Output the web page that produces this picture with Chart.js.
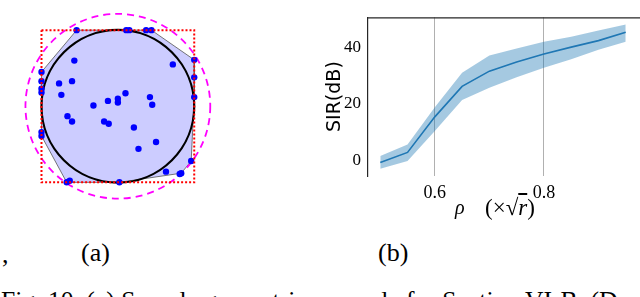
<!DOCTYPE html>
<html>
<head>
<meta charset="utf-8">
<script src="https://cdn.jsdelivr.net/npm/chart.js@4"></script>
<style>
  html, body { margin: 0; padding: 0; background: #fff; }
  body { width: 640px; height: 297px; overflow: hidden; position: relative; color: #000; }
  canvas { position: absolute; }
  #geo { left: 0; top: 0; }
  #sir { left: 320px; top: 0; }
  .txt { position: absolute; white-space: nowrap; line-height: 1; font-family: "Liberation Serif", "Times New Roman", serif; }
</style>
</head>
<body>
<canvas id="geo" width="240" height="215" style="width:240px;height:215px"></canvas>
<canvas id="sir" width="333" height="230" style="width:333px;height:230px"></canvas>

<div class="txt" style="left:2px;top:242px;font-size:26px;">,</div>
<div class="txt" style="left:81px;top:240px;font-size:26px;">(a)</div>
<div class="txt" style="left:378px;top:240px;font-size:26px;">(b)</div>
<div class="txt" style="left:455px;top:197px;font-size:20px;font-style:italic;">ρ</div>
<div class="txt" style="left:485px;top:196px;font-size:23px;">(×√<span style="font-style:italic;text-decoration:overline;">r</span>)</div>
<div class="txt" style="left:1px;top:288px;font-size:25.6px;">Fig. 10. (a) Sample geometric example for Section VI-B. (D</div>

<script>
const serif = '"Liberation Serif", "Times New Roman", serif';

// (b) SIR vs rho, mean with spread band
const rho = [0.5, 0.55, 0.6, 0.65, 0.7, 0.75, 0.8, 0.85, 0.9, 0.95];
const sirMean = [-0.9, 2.7, 15.3, 26.1, 31.5, 34.7, 37.6, 40.0, 42.3, 45.3];
const sirUpper = [1.4, 5.5, 18.7, 30.9, 37.0, 39.5, 41.9, 43.7, 45.9, 48.0];
const sirLower = [-3.1, -0.3, 10.3, 21.3, 25.6, 29.3, 32.7, 35.7, 39.1, 41.9];
const xTicks = [0.6, 0.8];
const yTicks = [0, 20, 40];

// (a) geometric example: sample points, their hull, square and circles
const ptX = [-0.54, 0.11, 0.15, 0.37, 0.44, 1.0, 1.0, 1.0, 0.96, 0.83, 0.81, 0.63, 0.02, -0.63, -0.67,
  -1.0, -1.0, -1.0, -1.0, -1.0, -1.0,
  -0.57, 0.72, -0.77, -0.60, -0.74, 0.10, -0.13, 0.0, 0.0, 0.42, 0.45, -0.32, -0.66, -0.60, -0.18, -0.12, 0.21, 0.50, 0.27];
const ptY = [1.0, 1.0, 1.0, 1.0, 1.0, 0.61, 0.38, 0.12, -0.72, -0.88, -0.89, -0.86, -1.0, -0.98, -1.0,
  -0.34, -0.39, 0.45, 0.33, 0.23, 0.18,
  0.60, 0.55, 0.30, 0.33, 0.15, 0.17, 0.07, 0.10, 0.05, 0.12, 0.02, 0.01, -0.13, -0.20, -0.20, -0.23, -0.28, -0.47, -0.56];
const hullX = [-0.54, 0.44, 1.0, 1.0, 0.96, 0.83, 0.02, -0.67, -1.0, -1.0, -0.54];
const hullY = [1.0, 1.0, 0.61, 0.12, -0.72, -0.88, -1.0, -1.0, -0.39, 0.45, 1.0];
const squareX = [-1, 1, 1, -1, -1];
const squareY = [1, 1, -1, -1, 1];
const innerR = 1.0;
const outerR = 1.21;

const toXY = (xs, ys) => xs.map((x, i) => ({ x: x, y: ys[i] }));

// fill the hull and draw the two circles right after it
const geoShapes = {
  id: 'geoShapes',
  beforeDatasetDraw(chart, args) {
    if (args.index !== 0) return;
    const ctx = chart.ctx;
    ctx.save();
    ctx.beginPath();
    args.meta.data.forEach((p, i) => i ? ctx.lineTo(p.x, p.y) : ctx.moveTo(p.x, p.y));
    ctx.closePath();
    ctx.fillStyle = 'rgba(0,0,255,0.2)';
    ctx.fill();
    ctx.restore();
  },
  afterDatasetDraw(chart, args) {
    if (args.index !== 0) return;
    const ctx = chart.ctx;
    const sx = chart.scales.x, sy = chart.scales.y;
    const cx = sx.getPixelForValue(0), cy = sy.getPixelForValue(0);
    ctx.save();
    ctx.beginPath();
    ctx.arc(cx, cy, sx.getPixelForValue(innerR) - cx, 0, Math.PI * 2);
    ctx.strokeStyle = '#000';
    ctx.lineWidth = 2.2;
    ctx.stroke();
    ctx.beginPath();
    ctx.setLineDash([7, 5]);
    ctx.arc(cx, cy, sx.getPixelForValue(outerR) - cx, 0, Math.PI * 2);
    ctx.strokeStyle = '#ff00ff';
    ctx.lineWidth = 1.8;
    ctx.stroke();
    ctx.restore();
  }
};

new Chart(document.getElementById('geo'), {
  type: 'scatter',
  data: {
    datasets: [
      { data: toXY(hullX, hullY), showLine: true, borderColor: '#555', borderWidth: 0.8, pointRadius: 0, order: 3, clip: false },
      { data: toXY(ptX, ptY), pointRadius: 3.2, pointBackgroundColor: '#0000ff', pointBorderWidth: 0, order: 2, clip: false },
      { data: toXY(squareX, squareY), showLine: true, borderColor: '#ff0000', borderWidth: 2, borderDash: [2, 2], pointRadius: 0, order: 1, clip: false }
    ]
  },
  options: {
    responsive: false,
    animation: false,
    devicePixelRatio: 1,
    layout: { padding: 0 },
    plugins: { legend: { display: false }, tooltip: { enabled: false } },
    scales: {
      x: { type: 'linear', display: false, min: -1.491, max: 1.547 },
      y: { type: 'linear', display: false, min: -1.377, max: 1.344 }
    }
  },
  plugins: [geoShapes]
});

// top spine of panel (b)
const topSpine = {
  id: 'topSpine',
  afterDraw(chart) {
    const { ctx, chartArea } = chart;
    ctx.save();
    ctx.beginPath();
    ctx.moveTo(chartArea.left, chartArea.top + 0.6);
    ctx.lineTo(chartArea.right, chartArea.top + 0.6);
    ctx.strokeStyle = '#262626';
    ctx.lineWidth = 1.2;
    ctx.stroke();
    ctx.restore();
  }
};

new Chart(document.getElementById('sir'), {
  type: 'line',
  data: {
    datasets: [
      { data: toXY(rho, sirMean), borderColor: '#1f77b4', borderWidth: 1.6, pointRadius: 0, tension: 0, fill: false },
      { data: toXY(rho, sirUpper), borderWidth: 0, borderColor: 'rgba(0,0,0,0)', backgroundColor: 'rgba(31,119,180,0.4)', pointRadius: 0, tension: 0, fill: '+1' },
      { data: toXY(rho, sirLower), borderWidth: 0, borderColor: 'rgba(0,0,0,0)', pointRadius: 0, tension: 0, fill: false }
    ]
  },
  options: {
    responsive: false,
    animation: false,
    devicePixelRatio: 1,
    layout: { padding: 0 },
    plugins: { legend: { display: false }, tooltip: { enabled: false } },
    scales: {
      x: {
        type: 'linear', min: 0.4775, max: 1.0,
        afterBuildTicks: s => { s.ticks = xTicks.map(v => ({ value: v })); },
        afterFit: s => { s.height = 54; },
        grid: { color: '#b0b0b0', lineWidth: 1, drawTicks: false },
        border: { display: false },
        ticks: { color: '#000', padding: 6, font: { family: serif, size: 18 }, callback: v => v.toFixed(1) }
      },
      y: {
        type: 'linear', min: -5.65, max: 50.6,
        afterBuildTicks: s => { s.ticks = yTicks.map(v => ({ value: v })); },
        afterFit: s => { s.width = 48; },
        grid: { display: false, drawTicks: false },
        border: { display: true, color: '#262626', width: 1.2 },
        ticks: { color: '#000', padding: 7, font: { family: serif, size: 17 } },
        title: { display: true, text: 'SIR(dB)', color: '#000', padding: { top: 4, bottom: 0 }, font: { family: 'DejaVu Sans', size: 19, lineHeight: 1.2 } }
      }
    }
  },
  plugins: [topSpine]
});
</script>
</body>
</html>
